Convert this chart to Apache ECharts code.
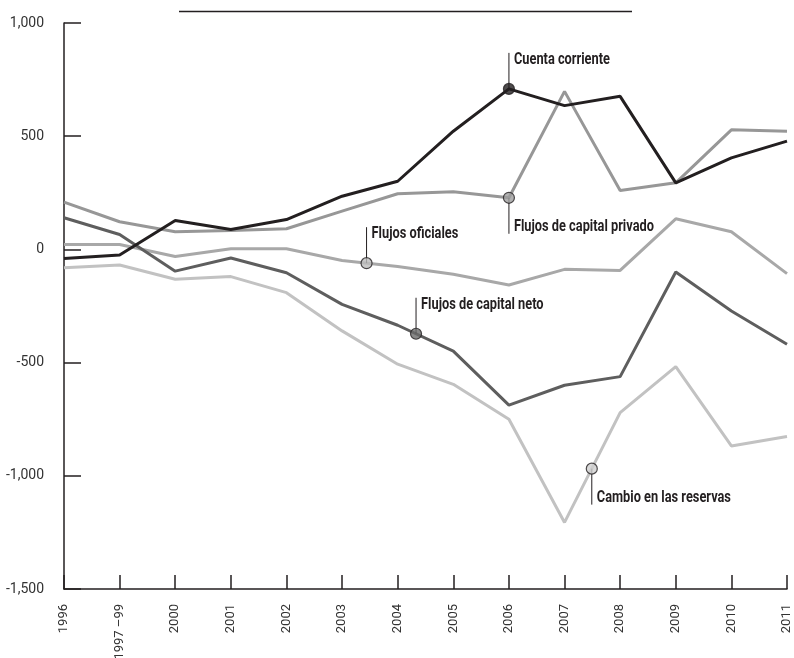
<!DOCTYPE html>
<html>
<head>
<meta charset="utf-8">
<script src="https://cdn.jsdelivr.net/npm/echarts@6/dist/echarts.min.js"></script>
<style>
html,body{margin:0;padding:0;background:#fff;}
#chart{width:794px;height:658px;}
</style>
</head>
<body>
<div id="chart"></div>
<script>
var categories = ['1996','1997 –99','2000','2001','2002','2003','2004','2005','2006','2007','2008','2009','2010','2011'];
var cuentaCorriente = [-40,-25,128,88,132,235,301,522,709,635,676,294,404,478];
var flujosPrivado   = [209,122,78,84,91,169,246,255,228,698,260,294,528,522];
var flujosOficiales = [22,22,-31,3,3,-49,-76,-110,-157,-88,-93,135,78,-107];
var flujosNeto      = [140,66,-96,-38,-103,-243,-335,-449,-688,-600,-562,-100,-272,-419];
var cambioReservas  = [-81,-69,-132,-120,-191,-360,-507,-596,-750,-1206,-721,-518,-868,-826];
var yTicks = [-1500,-1000,-500,0,500,1000];

var FONT = 'Roboto,"Liberation Sans",sans-serif';
var LABEL_FONT = 'Roboto,"Noto Sans",sans-serif';

var seriesDefs = [
  {name:'Cambio en las reservas', data:cambioReservas, color:'#c2c2c2', marker:'#cfcfcf', at:9.49, dir:'down'},
  {name:'Flujos oficiales', data:flujosOficiales, color:'#a8a8a8', marker:'#bdbdbd', at:5.44, dir:'up'},
  {name:'Flujos de capital neto', data:flujosNeto, color:'#5e5e5e', marker:'#6a6a6a', at:6.33, dir:'up'},
  {name:'Flujos de capital privado', data:flujosPrivado, color:'#979797', marker:'#9e9e9e', at:8, dir:'down'},
  {name:'Cuenta corriente', data:cuentaCorriente, color:'#231f20', marker:'#231f20', at:8, dir:'up'}
];

function interp(arr, t){
  var i = Math.floor(t), f = t - i;
  if (i >= arr.length - 1) return arr[arr.length-1];
  return arr[i] + (arr[i+1]-arr[i]) * f;
}

function fmt(v){
  var s = Math.abs(v).toString();
  if (Math.abs(v) >= 1000) s = s.slice(0, s.length-3) + ',' + s.slice(s.length-3);
  return (v < 0 ? '-' : '') + s;
}

var series = seriesDefs.map(function(d){
  return {
    type:'line', name:d.name,
    data:d.data.map(function(v,i){return [i,v];}),
    showSymbol:false, symbol:'none', animation:false,
    lineStyle:{color:d.color, width:3}, z:2
  };
});
seriesDefs.forEach(function(d){
  series.push({
    type:'scatter', animation:false, z:5,
    data:[[d.at, interp(d.data, d.at)]],
    symbol:'circle', symbolSize:11,
    itemStyle:{color:d.marker, borderColor:'#231f20', borderWidth:1.2}
  });
});

var chart = echarts.init(document.getElementById('chart'), null, {renderer:'canvas'});
chart.setOption({
  animation:false,
  backgroundColor:'#fff',
  grid:{left:64, right:7, top:23, bottom:69, containLabel:false, outerBoundsMode:'none'},
  xAxis:{
    type:'value', min:0, max:categories.length-1, interval:1,
    axisLine:{show:true, onZero:false, lineStyle:{color:'#231f20', width:1.5}},
    axisTick:{show:true, inside:true, length:14, lineStyle:{color:'#231f20', width:1.5}},
    splitLine:{show:false},
    axisLabel:{
      rotate:90, margin:15, fontFamily:FONT, fontSize:13, color:'#333',
      formatter:function(v){return categories[v] !== undefined ? categories[v] : '';}
    }
  },
  yAxis:{
    type:'value', min:yTicks[0], max:yTicks[yTicks.length-1], interval:500,
    axisLine:{show:true, lineStyle:{color:'#231f20', width:1.5}},
    axisTick:{show:true, inside:true, length:17, lineStyle:{color:'#231f20', width:1.5}},
    splitLine:{show:false},
    axisLabel:{margin:20, fontFamily:FONT, fontSize:14, color:'#333', formatter:fmt}
  },
  series:series
});

var g = [
  {type:'line', shape:{x1:179, y1:11.5, x2:632, y2:11.5}, style:{stroke:'#231f20', lineWidth:1.5}}
];
seriesDefs.forEach(function(d){
  var p = chart.convertToPixel({gridIndex:0}, [d.at, interp(d.data, d.at)]);
  var len = 36;
  var y2 = d.dir === 'up' ? p[1] - len : p[1] + len;
  g.push({type:'line', z:4, shape:{x1:p[0], y1:p[1], x2:p[0], y2:y2}, style:{stroke:'#231f20', lineWidth:1}});
  g.push({type:'text', z:6, x:p[0]+5, y: d.dir === 'up' ? y2 + 7 : y2 - 7, scaleX:0.8,
    style:{text:d.name, fontFamily:LABEL_FONT, fontSize:16, fontWeight:'bold', fill:'#231f20', textVerticalAlign:'middle', textAlign:'left'}});
});
chart.setOption({graphic:g});
</script>
</body>
</html>
